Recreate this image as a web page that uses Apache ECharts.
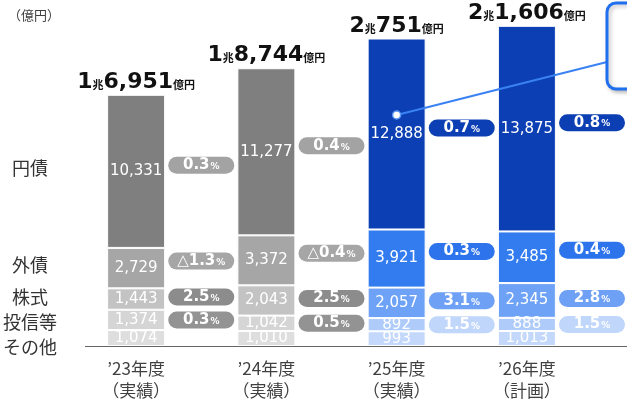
<!DOCTYPE html>
<html>
<head>
<meta charset="utf-8">
<script src="https://cdn.jsdelivr.net/npm/echarts@6/dist/echarts.min.js"></script>
<style>
  html, body { margin: 0; padding: 0; background: #fff; }
  #chart { width: 627px; height: 404px; }
</style>
</head>
<body>
<div id="chart"></div>
<script>
// 年度ラベル
const years = ["’23年度\n（実績）", "’24年度\n（実績）", "’25年度\n（実績）", "’26年度\n（計画）"];

// 残高（億円）
const enBonds = [10331, 11277, 12888, 13875];
const foreignBonds = [2729, 3372, 3921, 3485];
const stocks = [1443, 2043, 2057, 2345];
const funds = [1374, 1042, 892, 888];
const others = [1074, 1010, 993, 1013];

// 利回り（%）、マイナスは△
const enBondsRate = [0.3, 0.4, 0.7, 0.8];
const foreignRate = [-1.3, -0.4, 0.3, 0.4];
const stocksRate = [2.5, 2.5, 3.1, 2.8];
const fundsRate = [0.3, 0.5, 1.5, 1.5];

const NUM_FONT = "'DejaVu Sans', 'Noto Sans CJK JP', sans-serif";
const JP_FONT = "'Noto Sans CJK JP', sans-serif";

// 下から順に積み上げ
const rows = [
  { name: "その他", values: others, bar: ["#dedede", "#c3d8fb"] },
  { name: "投信等", values: funds, rate: fundsRate, bar: ["#d5d5d5", "#aecbfa"], pill: ["#939393", "#c0d6fb"], shift: 0 },
  { name: "株式", values: stocks, rate: stocksRate, bar: ["#c3c3c3", "#6ea2f6"], pill: ["#8c8c8c", "#6ea0f5"], shift: -2 },
  { name: "外債", values: foreignBonds, rate: foreignRate, bar: ["#a6a6a6", "#337cf0"], pill: ["#a6a6a6", "#2d74ec"], shift: -7 },
  { name: "円債", values: enBonds, rate: enBondsRate, bar: ["#7f7f7f", "#0b3fb3"], pill: ["#a3a3a3", "#0b3fb3"], shift: -6 },
];

const totals = years.map((_, i) => rows.reduce((s, r) => s + r.values[i], 0));

function fmt(n) {
  return n.toLocaleString("en-US");
}

const series = [];
const base = years.map(() => 0);

rows.forEach((r) => {
  series.push({
    name: r.name,
    type: "bar",
    stack: "total",
    barWidth: 58,
    data: r.values.map((v, i) => ({
      value: v,
      itemStyle: { color: r.bar[i < 2 ? 0 : 1] },
    })),
    itemStyle: { borderColor: "#fff", borderWidth: 1 },
    label: {
      show: true,
      position: "inside",
      color: "#fff",
      fontFamily: NUM_FONT,
      fontSize: 15,
      formatter: (p) => fmt(p.value),
    },
    z: 2,
  });

  if (r.rate) {
    series.push({
      name: r.name + "利回り",
      type: "scatter",
      xAxisIndex: 1,
      symbolSize: 1,
      itemStyle: { color: "rgba(0,0,0,0)", opacity: 1 },
      clip: false,
      z: 5,
      data: r.rate.map((v, i) => ({
        value: [i + 0.5, base[i] + r.values[i] / 2],
        rate: v,
        label: { backgroundColor: r.pill[i < 2 ? 0 : 1] },
      })),
      label: {
        show: true,
        position: "inside",
        offset: [0, r.shift],
        opacity: 1,
        width: 62,
        height: 17,
        lineHeight: 17,
        borderRadius: 9,
        padding: [0, 2],
        align: "center",
        color: "#fff",
        fontFamily: NUM_FONT,
        fontSize: 15,
        fontWeight: "bold",
        formatter: (p) => {
          const v = p.data.rate;
          const t = v < 0 ? "{t|△}" : "";
          return t + "{n|" + Math.abs(v).toFixed(1) + "}{p|%}";
        },
        rich: {
          t: { fontFamily: NUM_FONT, fontSize: 15, color: "#fff", align: "center" },
          n: { fontFamily: NUM_FONT, fontSize: 15, fontWeight: "bold", color: "#fff", align: "center" },
          p: { fontFamily: NUM_FONT, fontSize: 9, fontWeight: "bold", color: "#fff", align: "center", padding: [3, 0, 0, 1] },
        },
      },
    });
  }
  r.values.forEach((v, i) => (base[i] += v));
});

// 合計ラベル
series.push({
  name: "合計",
  type: "scatter",
  symbolSize: 1,
  itemStyle: { color: "rgba(0,0,0,0)", opacity: 1 },
  z: 5,
  data: totals,
  label: {
    show: true,
    position: "top",
    distance: 1,
    formatter: (p) => {
      const t = p.value;
      return "{b|" + Math.floor(t / 10000) + "}{s|兆}{b|" + fmt(t % 10000) + "}{s|億円}";
    },
    rich: {
      b: { fontFamily: NUM_FONT, fontSize: 22, fontWeight: "bold", color: "#111" },
      s: { fontFamily: JP_FONT, fontSize: 11, fontWeight: "bold", color: "#111", padding: [5, 0, 0, 0] },
    },
  },
});

const chart = echarts.init(document.getElementById("chart"));

const leftLabels = [
  ["円債", 168], ["外債", 265], ["株式", 297], ["投信等", 322], ["その他", 347],
];

chart.setOption({
  animation: false,
  grid: { left: 71, right: 35, top: 20, bottom: 58 },
  xAxis: [
    {
      type: "category",
      data: years,
      axisLine: { show: false },
      axisTick: { show: false },
      axisLabel: {
        color: "#404040",
        fontFamily: JP_FONT,
        fontSize: 17,
        lineHeight: 22,
        margin: 12,
      },
    },
    { type: "value", min: -0.5, max: 3.5, show: false },
  ],
  yAxis: { type: "value", min: 0, max: 22000, show: false },
  series: series,
});

// 注記・軸線など
const dotX = chart.convertToPixel({ xAxisIndex: 0 }, years[2]);
chart.setOption({
  graphic: [
    {
      type: "text", x: 8, y: 15,
      style: { text: "（億円）", fill: "#404040", font: "13px " + JP_FONT, verticalAlign: "middle" },
    },
    ...leftLabels.map(([t, y]) => ({
      type: "text", x: 30, y: y,
      style: { text: t, fill: "#333", font: "18px " + JP_FONT, align: "center", verticalAlign: "middle" },
    })),
    {
      type: "line",
      shape: { x1: 85, y1: 346.5, x2: 627, y2: 346.5 },
      style: { stroke: "#666", lineWidth: 1 },
    },
    {
      type: "line", z: 10,
      shape: { x1: dotX, y1: 115, x2: 607, y2: 62 },
      style: { stroke: "#3a82f2", lineWidth: 2 },
    },
    {
      type: "circle", z: 11,
      shape: { cx: dotX, cy: 115, r: 4 },
      style: { fill: "#fff", stroke: "#5a96f5", lineWidth: 1.5 },
    },
    {
      type: "rect", z: 11,
      shape: { x: 607, y: 3, width: 60, height: 86, r: 9 },
      style: {
        fill: "#fff", stroke: "#1f6fee", lineWidth: 3,
        shadowBlur: 4, shadowColor: "rgba(0,0,0,0.25)", shadowOffsetX: 2, shadowOffsetY: 2,
      },
    },
  ],
});
</script>
</body>
</html>
